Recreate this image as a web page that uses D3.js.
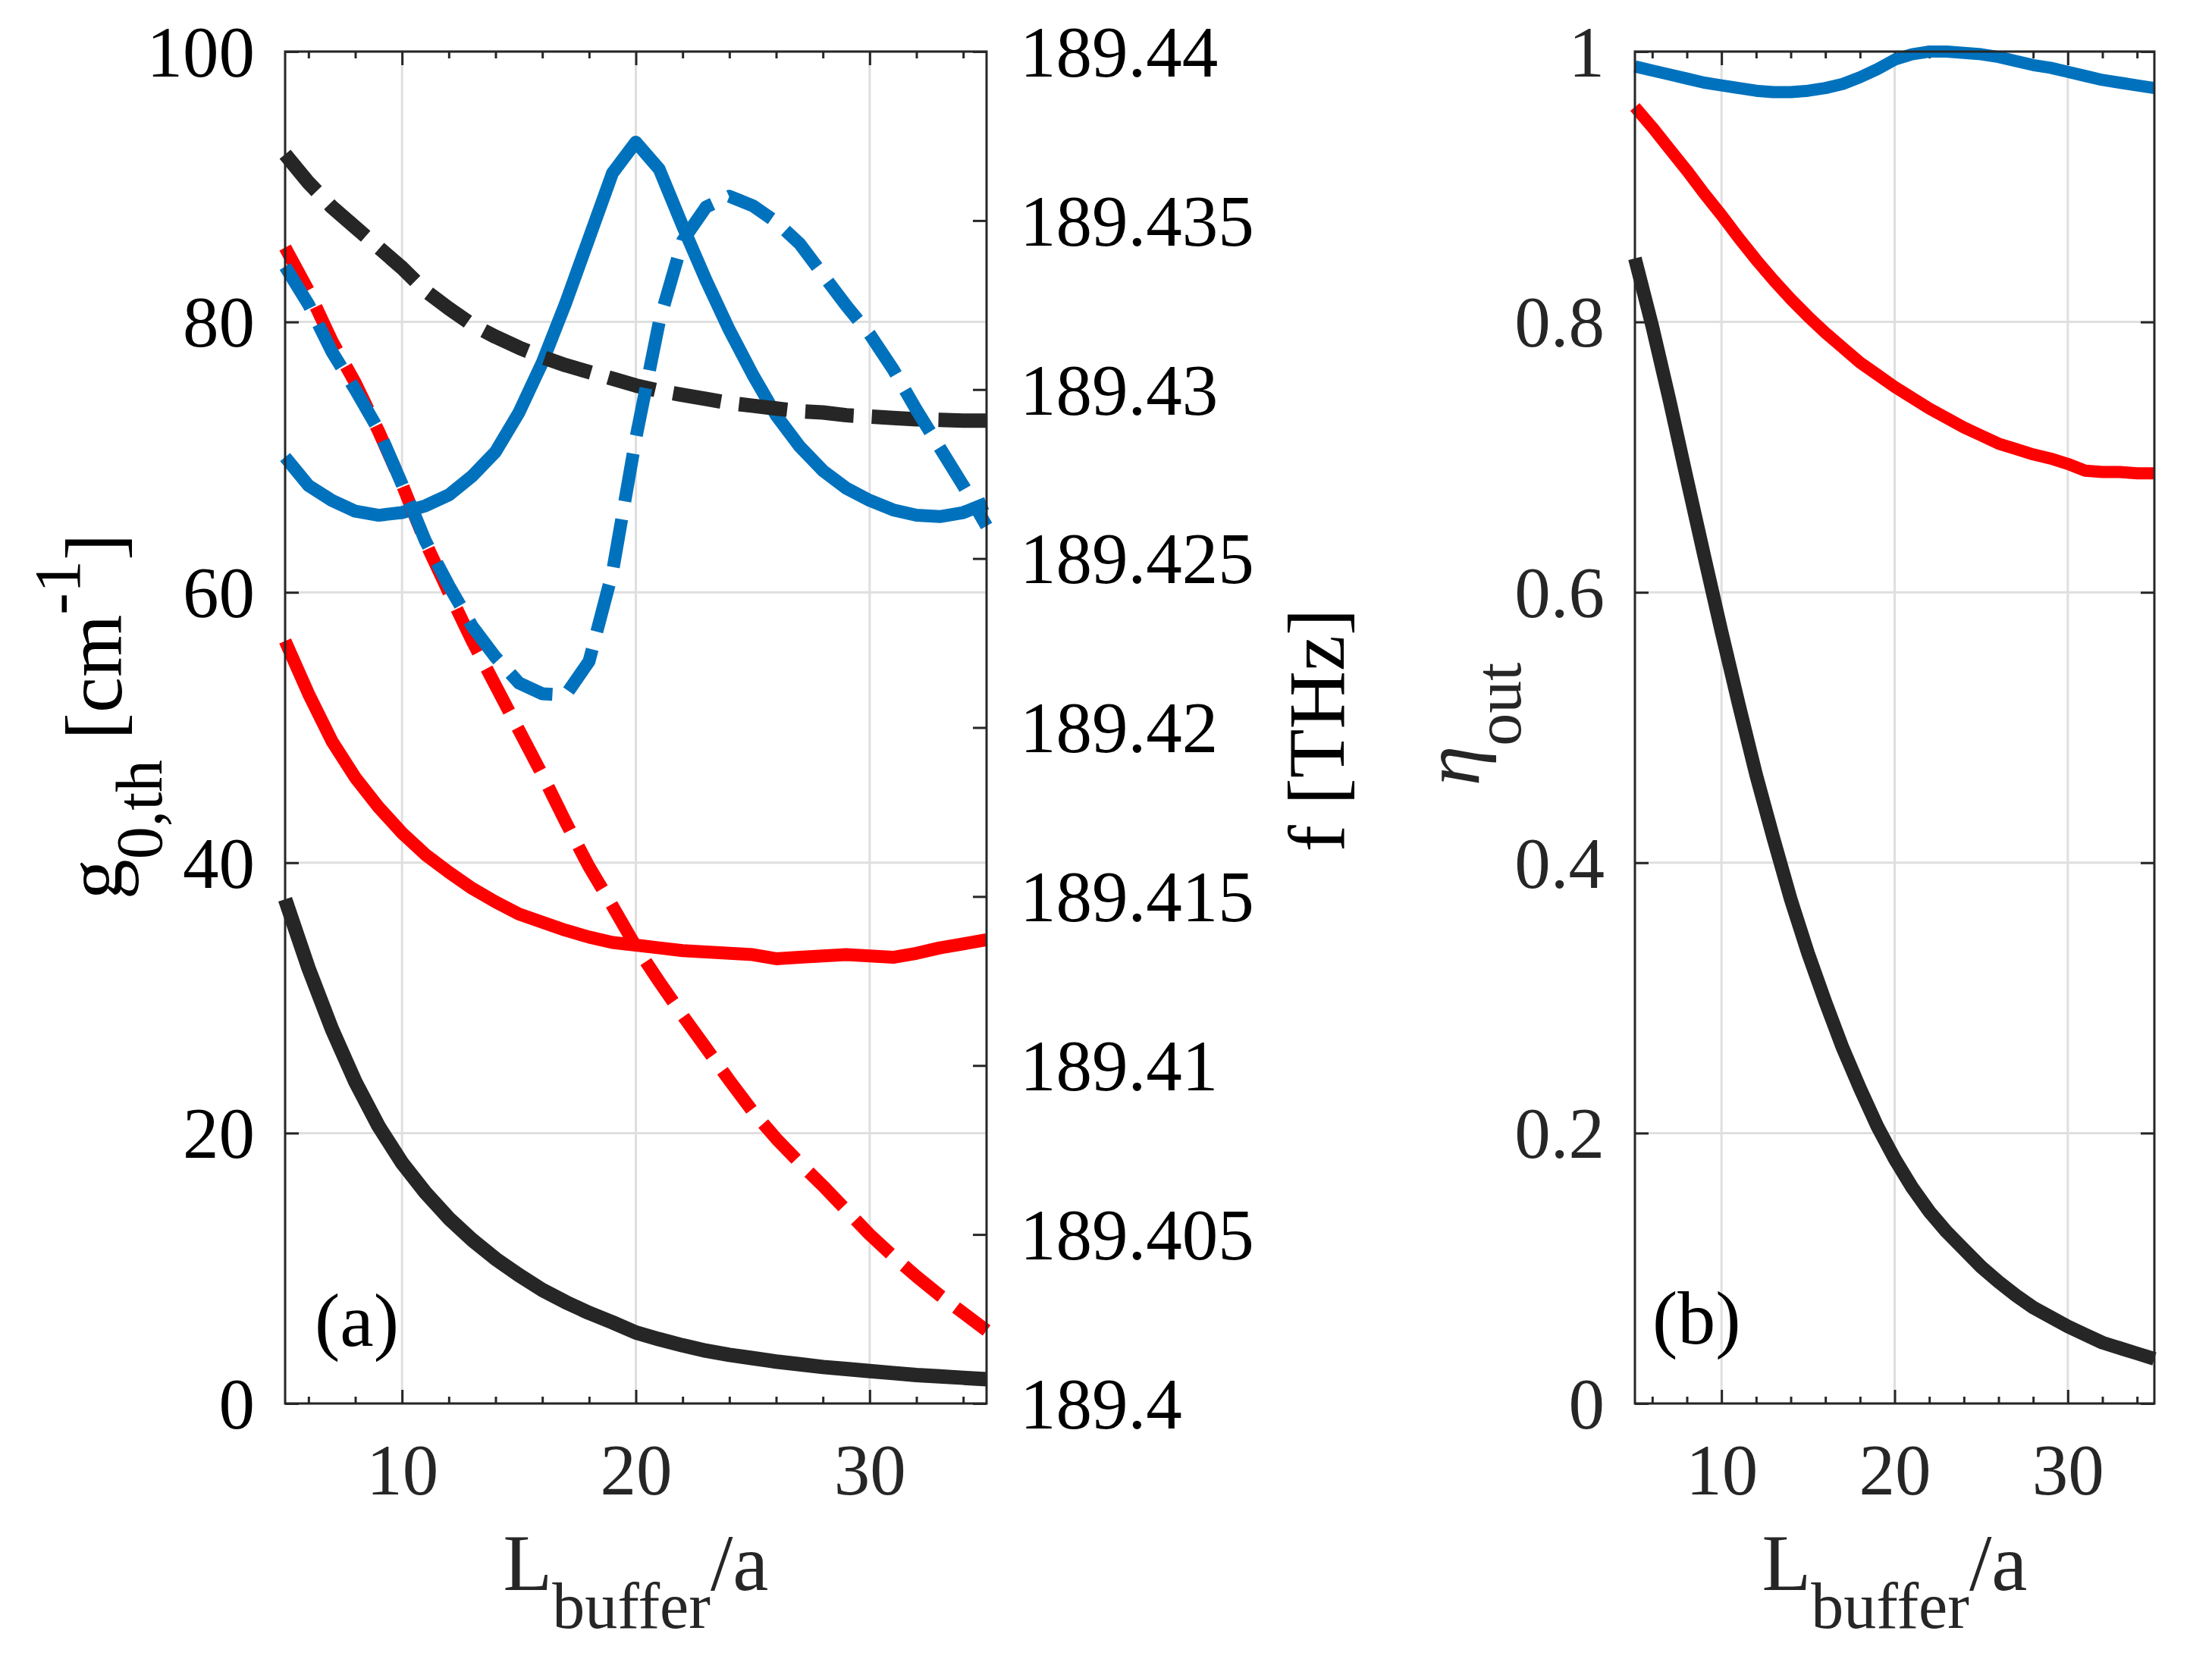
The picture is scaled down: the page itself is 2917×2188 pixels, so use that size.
<!DOCTYPE html>
<html>
<head>
<meta charset="utf-8">
<script src="https://cdn.jsdelivr.net/npm/d3@7"></script>
<style>
  body { margin: 0; background: #fff; }
  text { font-family: "Liberation Serif", "Times New Roman", serif; }
</style>
</head>
<body>
<div id="chart-area"></div>
<script>
// buffer length L_buffer/a (shared x values)
let lBuffer = [5, 6, 7, 8, 9, 10, 11, 12, 13, 14, 15, 16, 17, 18, 19, 20,
	21, 22, 23, 24, 25, 26, 27, 28, 29, 30, 31, 32, 33, 34, 35];

// (a) threshold gain g_0,th [cm^-1], left axis
let gBlack = [37.3, 32.2, 27.7, 23.8, 20.5, 17.8, 15.6, 13.7, 12.1, 10.7, 9.5, 8.4, 7.5, 6.7, 6.0, 5.25,
	4.75, 4.3, 3.9, 3.6, 3.35, 3.1, 2.9, 2.7, 2.55, 2.4, 2.25, 2.1, 2.0, 1.9, 1.8];
let gRed = [56.4, 52.5, 49.0, 46.3, 44.1, 42.2, 40.6, 39.3, 38.1, 37.1, 36.2, 35.6, 35.0, 34.5, 34.1, 33.9,
	33.7, 33.5, 33.4, 33.3, 33.2, 32.9, 33.0, 33.1, 33.2, 33.1, 33.0, 33.3, 33.7, 34.0, 34.3];
let gBlue = [70.0, 67.9, 66.8, 66.0, 65.7, 65.9, 66.4, 67.2, 68.6, 70.4, 73.3, 77.0, 81.4, 86.2, 91.0, 93.3,
	91.3, 87.1, 83.1, 79.4, 76.1, 73.1, 70.8, 69.0, 67.7, 66.8, 66.1, 65.7, 65.6, 65.9, 66.6];

// (a) lasing frequency f [THz], right axis
let fBlack = [189.43696, 189.43612, 189.4354, 189.4348, 189.4342, 189.4336, 189.43292, 189.4324, 189.43192,
	189.43156, 189.43124, 189.43096, 189.43072, 189.43052, 189.43032, 189.43012, 189.42996, 189.42984,
	189.42972, 189.4296, 189.42952, 189.42944, 189.42936, 189.42932, 189.42924, 189.4292, 189.42916,
	189.42912, 189.4291, 189.42908, 189.42908];
let fRed = [189.4342, 189.43292, 189.43144, 189.4302, 189.42876, 189.4272, 189.42548, 189.424, 189.42256,
	189.42124, 189.41992, 189.4186, 189.4172, 189.41588, 189.41472, 189.41352, 189.41248, 189.41148,
	189.41052, 189.40956, 189.40864, 189.40784, 189.40712, 189.40644, 189.40572, 189.405, 189.40436,
	189.40376, 189.4032, 189.40268, 189.40216];
let fBlue = [189.43364, 189.43252, 189.43112, 189.43, 189.4288, 189.4272, 189.42552, 189.4242, 189.423,
	189.42208, 189.42132, 189.421, 189.42096, 189.42196, 189.4246, 189.42856, 189.432, 189.4344,
	189.4354, 189.43572, 189.43544, 189.43496, 189.43432, 189.4334, 189.43248, 189.43164, 189.4306,
	189.4294, 189.42828, 189.42716, 189.42596];

// (b) output efficiency eta_out
let etaBlack = [0.847, 0.797, 0.742, 0.684, 0.627, 0.571, 0.517, 0.465, 0.418, 0.373, 0.333, 0.297, 0.263,
	0.233, 0.205, 0.181, 0.160, 0.142, 0.127, 0.114, 0.101, 0.090, 0.080, 0.071, 0.064, 0.057, 0.051,
	0.045, 0.041, 0.037, 0.033];
let etaRed = [0.959, 0.944, 0.928, 0.912, 0.895, 0.879, 0.862, 0.846, 0.831, 0.817, 0.804, 0.792, 0.781,
	0.770, 0.761, 0.752, 0.744, 0.736, 0.729, 0.722, 0.716, 0.710, 0.706, 0.702, 0.699, 0.695, 0.690,
	0.689, 0.689, 0.688, 0.688];
let etaBlue = [0.989, 0.986, 0.983, 0.980, 0.977, 0.975, 0.973, 0.971, 0.970, 0.970, 0.971, 0.973, 0.976,
	0.981, 0.987, 0.994, 0.998, 1.000, 1.000, 0.999, 0.998, 0.996, 0.993, 0.990, 0.988, 0.985, 0.982,
	0.979, 0.977, 0.975, 0.973];

// tick values
let xMajorTicks = [10, 20, 30];
let xMinorTicks = [6, 8, 12, 14, 16, 18, 22, 24, 26, 28, 32, 34];
let gTicks = [0, 20, 40, 60, 80, 100];
let fTicks = [189.4, 189.405, 189.41, 189.415, 189.42, 189.425, 189.43, 189.435, 189.44];
let etaTicks = [0, 0.2, 0.4, 0.6, 0.8, 1];

let colors = {black: "#262626", red: "#ff0000", blue: "#0072bd"};

let width = 2917, height = 2188;
let plotTop = 68, plotBottom = 1851;

let svg = d3.select("#chart-area")
	.append("svg")
	.attr("width", width)
	.attr("height", height)
	.style("display", "block");

svg.append("rect").attr("width", width).attr("height", height).attr("fill", "#fff");

let yG = d3.scaleLinear().domain([0, 100]).range([plotBottom, plotTop]);
let yF = d3.scaleLinear().domain([189.4, 189.44]).range([plotBottom, plotTop]);
let yEta = d3.scaleLinear().domain([0, 1]).range([plotBottom, plotTop]);

// draw the grid and x ticks of one panel
function makePanel(left, right, yScale, yTicks) {
	let x = d3.scaleLinear().domain([5, 35]).range([left, right]);
	let g = svg.append("g");

	// grid
	g.selectAll(".vgrid").data(xMajorTicks).enter().append("line")
		.attr("x1", d => x(d)).attr("x2", d => x(d))
		.attr("y1", plotTop).attr("y2", plotBottom)
		.attr("stroke", "#dfdfdf").attr("stroke-width", 3);
	g.selectAll(".hgrid").data(yTicks).enter().append("line")
		.attr("x1", left).attr("x2", right)
		.attr("y1", d => yScale(d)).attr("y2", d => yScale(d))
		.attr("stroke", "#dfdfdf").attr("stroke-width", 3);

	// x ticks, bottom and top, pointing inward
	let axes = [
		[d3.axisBottom(x), plotBottom],
		[d3.axisTop(x), plotTop]
	];
	axes.forEach(([gen, pos], i) => {
		let major = g.append("g")
			.attr("transform", "translate(0," + pos + ")")
			.call(gen.tickValues(xMajorTicks).tickSize(-18).tickFormat(i === 0 ? d3.format("d") : ""));
		let minor = g.append("g")
			.attr("transform", "translate(0," + pos + ")")
			.call(gen.tickValues(xMinorTicks).tickSize(-9).tickFormat(""));
		[major, minor].forEach(a => {
			a.select(".domain").remove();
			a.selectAll("line").attr("stroke", colors.black).attr("stroke-width", 3);
		});
		major.selectAll("text")
			.attr("y", 120).attr("dy", null)
			.attr("fill", colors.black)
			.style("font-size", "95px");
	});
	return {x: x, g: g};
}

function drawLine(panel, yScale, ys, color, lw, dashed) {
	let line = d3.line()
		.x((d, i) => panel.x(lBuffer[i]))
		.y(d => yScale(d));
	panel.g.append("path")
		.datum(ys)
		.attr("d", line)
		.attr("fill", "none")
		.attr("stroke", color)
		.attr("stroke-width", lw)
		.attr("stroke-linejoin", "round")
		.attr("stroke-dasharray", dashed ? "64,24" : null);
}

function box(panel, left, right) {
	panel.g.append("rect")
		.attr("x", left).attr("y", plotTop)
		.attr("width", right - left).attr("height", plotBottom - plotTop)
		.attr("fill", "none")
		.attr("stroke", colors.black)
		.attr("stroke-width", 3);
}

// ---------- panel (a) ----------
let aLeft = 376, aRight = 1301;
let pa = makePanel(aLeft, aRight, yG, gTicks);

drawLine(pa, yG, gBlack, colors.black, 19, false);
drawLine(pa, yG, gRed, colors.red, 17, false);
drawLine(pa, yG, gBlue, colors.blue, 17, false);
drawLine(pa, yF, fBlack, colors.black, 19, true);
drawLine(pa, yF, fRed, colors.red, 17, true);
drawLine(pa, yF, fBlue, colors.blue, 17, true);
box(pa, aLeft, aRight);

let gAxis = pa.g.append("g")
	.attr("transform", "translate(" + aLeft + ",0)")
	.call(d3.axisLeft(yG).tickValues(gTicks).tickSize(-18).tickPadding(40).tickFormat(d3.format("d")));
let fAxis = pa.g.append("g")
	.attr("transform", "translate(" + aRight + ",0)")
	.call(d3.axisRight(yF).tickValues(fTicks).tickSize(-18).tickPadding(44).tickFormat(d => String(+d.toFixed(3))));
[gAxis, fAxis].forEach(a => {
	a.select(".domain").remove();
	a.selectAll("line").attr("stroke", colors.black).attr("stroke-width", 3);
	a.selectAll("text").attr("fill", "#000").attr("dy", "0.34em").style("font-size", "95px");
});

// y label left
let yLabelA = svg.append("text")
	.attr("transform", "translate(160,945) rotate(-90)")
	.attr("text-anchor", "middle")
	.attr("fill", "#000")
	.style("font-size", "106px");
yLabelA.append("tspan").text("g");
yLabelA.append("tspan").attr("dy", 53).style("font-size", "86px").text("0,th");
yLabelA.append("tspan").attr("dy", -53).text(" [cm");
yLabelA.append("tspan").attr("dy", -55).style("font-size", "86px").text("-1");
yLabelA.append("tspan").attr("dy", 55).text("]");

// y label right
svg.append("text")
	.attr("transform", "translate(1772,963) rotate(-90)")
	.attr("text-anchor", "middle")
	.attr("fill", "#000")
	.style("font-size", "106px")
	.text("f [THz]");

// ---------- panel (b) ----------
let bLeft = 2156, bRight = 2841;
let pb = makePanel(bLeft, bRight, yEta, etaTicks);

drawLine(pb, yEta, etaBlack, colors.black, 18, false);
drawLine(pb, yEta, etaRed, colors.red, 16, false);
drawLine(pb, yEta, etaBlue, colors.blue, 16, false);
box(pb, bLeft, bRight);

let etaAxis = pb.g.append("g")
	.attr("transform", "translate(" + bLeft + ",0)")
	.call(d3.axisLeft(yEta).tickValues(etaTicks).tickSize(-18).tickPadding(40).tickFormat(d => String(+d.toFixed(1))));
let etaAxisR = pb.g.append("g")
	.attr("transform", "translate(" + bRight + ",0)")
	.call(d3.axisRight(yEta).tickValues(etaTicks).tickSize(-18).tickFormat(""));
[etaAxis, etaAxisR].forEach(a => {
	a.select(".domain").remove();
	a.selectAll("line").attr("stroke", colors.black).attr("stroke-width", 3);
	a.selectAll("text").attr("fill", colors.black).attr("dy", "0.34em").style("font-size", "95px");
});

let etaLabel = svg.append("text")
	.attr("transform", "translate(1950,955) rotate(-90)")
	.attr("text-anchor", "middle")
	.attr("fill", colors.black)
	.style("font-size", "106px");
etaLabel.append("tspan").style("font-style", "italic").text("η");
etaLabel.append("tspan").attr("dy", 55).style("font-size", "86px").text("out");

// x labels
[[aLeft, aRight], [bLeft, bRight]].forEach(([l, r]) => {
	let xl = svg.append("text")
		.attr("x", (l + r) / 2)
		.attr("y", 2097)
		.attr("text-anchor", "middle")
		.attr("fill", colors.black)
		.style("font-size", "106px");
	xl.append("tspan").text("L");
	xl.append("tspan").attr("dy", 50).style("font-size", "86px").text("buffer");
	xl.append("tspan").attr("dy", -50).text("/a");
});

// panel tags
svg.append("text").attr("x", 415).attr("y", 1775)
	.attr("fill", "#000").style("font-size", "100px").text("(a)");
svg.append("text").attr("x", 2179).attr("y", 1772)
	.attr("fill", "#000").style("font-size", "100px").text("(b)");
</script>
</body>
</html>
